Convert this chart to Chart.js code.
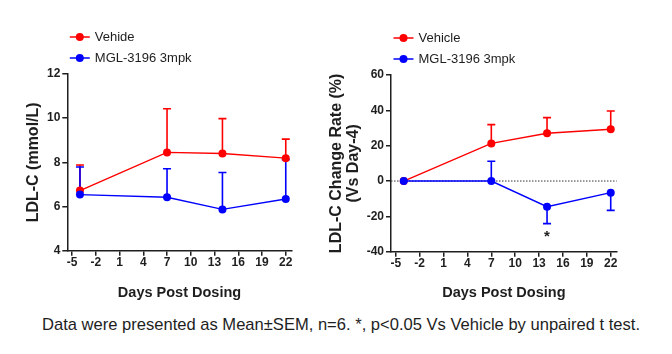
<!DOCTYPE html>
<html>
<head>
<meta charset="utf-8">
<script src="https://cdn.jsdelivr.net/npm/chart.js@4.4.1/dist/chart.umd.min.js"></script>
<style>
  html, body { margin: 0; padding: 0; background: #ffffff; }
  body { width: 672px; height: 354px; position: relative; overflow: hidden; }
  #cLeft { position: absolute; left: 0px; top: 0px; }
  #cRight { position: absolute; left: 316px; top: 0px; }
  #caption { position: absolute; left: 41.7px; top: 314px; white-space: nowrap;
    font-family: "Liberation Sans", Arial, sans-serif; font-size: 17px; line-height: 22px;
    color: #1e1e1e; transform-origin: left center; }
</style>
</head>
<body>
<canvas id="cLeft" width="336" height="310"></canvas>
<canvas id="cRight" width="356" height="310"></canvas>
<div id="caption">Data were presented as Mean±SEM, n=6. *, p&lt;0.05 Vs Vehicle by unpaired t test.</div>
<script>
// ---------------- data ----------------
const days = [-4, 7, 14, 22];
const xTickValues = [-5, -2, 1, 4, 7, 10, 13, 16, 19, 22];
const seriesNames = ['Vehide', 'MGL-3196 3mpk'];
const seriesNamesRight = ['Vehicle', 'MGL-3196 3mpk'];

const ldlVehicle    = [6.72, 8.45, 8.40, 8.19];
const ldlVehicleSem = [1.16, 1.98, 1.58, 0.86];
const ldlMgl        = [6.54, 6.42, 5.87, 6.34];
const ldlMglSem     = [1.25, 1.29, 1.67, 1.78];
const leftYTicks    = [4, 6, 8, 10, 12];

const changeVehicle    = [0, 21.3, 27.0, 29.3];
const changeVehicleSem = [0, 10.6, 8.9, 10.3];
const changeMgl        = [0, 0, -14.5, -6.6];
const changeMglSem     = [0, 11.2, 9.6, 10.0];
const rightYTicks      = [-40, -20, 0, 20, 40, 60];

const starDay = 14;
const starValue = -30;

// ---------------- styling ----------------
const FONT = '"Liberation Sans", Arial, sans-serif';
const RED = '#ff0000';
const BLUE = '#0000ff';
const INK = '#1e1e1e';

function pts(xs, ys) { return xs.map((x, i) => ({ x: x, y: ys[i] })); }

const errorBarPlugin = {
  id: 'errorBars',
  beforeDatasetsDraw(chart) {
    const ctx = chart.ctx;
    const xs = chart.scales.x, ys = chart.scales.y;
    const opts = chart.options.plugins.errorBars || {};
    // zero reference line
    if (opts.zeroLine) {
      const y0 = ys.getPixelForValue(0);
      ctx.save();
      ctx.strokeStyle = '#333';
      ctx.lineWidth = 1;
      ctx.setLineDash([1.5, 1.5]);
      ctx.beginPath();
      ctx.moveTo(chart.chartArea.left, y0);
      ctx.lineTo(chart.chartArea.right, y0);
      ctx.stroke();
      ctx.restore();
    }
    chart.data.datasets.forEach((ds) => {
      const errs = ds.sem || [];
      ctx.save();
      ctx.strokeStyle = ds.borderColor;
      ctx.lineWidth = 1.6;
      ds.data.forEach((p, i) => {
        const e = errs[i];
        if (!e) return;
        const dir = p.y < 0 ? -1 : 1;
        const px = xs.getPixelForValue(p.x);
        const py = ys.getPixelForValue(p.y);
        const pe = ys.getPixelForValue(p.y + dir * e);
        ctx.beginPath();
        ctx.moveTo(px, py);
        ctx.lineTo(px, pe);
        ctx.moveTo(px - 4, pe);
        ctx.lineTo(px + 4, pe);
        ctx.stroke();
      });
      ctx.restore();
    });
  },
  afterDraw(chart) {
    const ctx = chart.ctx;
    const opts = chart.options.plugins.errorBars || {};
    const area = chart.chartArea;
    // legend
    const items = opts.legend || [];
    items.forEach((it, i) => {
      const y = area.top - 37 + i * 21;
      const x0 = area.left + 2.5;
      ctx.save();
      ctx.strokeStyle = it.color;
      ctx.lineWidth = 1.5;
      ctx.beginPath();
      ctx.moveTo(x0, y);
      ctx.lineTo(x0 + 20, y);
      ctx.stroke();
      ctx.fillStyle = it.color;
      ctx.beginPath();
      ctx.arc(x0 + 10, y, 4, 0, Math.PI * 2);
      ctx.fill();
      ctx.fillStyle = INK;
      ctx.font = '13px ' + FONT;
      ctx.textBaseline = 'middle';
      ctx.textAlign = 'left';
      ctx.fillText(it.label, x0 + 25, y);
      ctx.restore();
    });
    // significance star
    if (opts.star) {
      const xs = chart.scales.x, ys = chart.scales.y;
      const px = xs.getPixelForValue(opts.star.x);
      const py = ys.getPixelForValue(opts.star.y);
      ctx.save();
      ctx.fillStyle = INK;
      ctx.font = 'bold 15px ' + FONT;
      ctx.textAlign = 'center';
      ctx.textBaseline = 'alphabetic';
      const m = ctx.measureText('*');
      const mid = (m.actualBoundingBoxAscent - m.actualBoundingBoxDescent) / 2;
      ctx.fillText('*', px, py + mid);
      ctx.restore();
    }
  }
};

function makeChart(canvasId, cfg) {
  const tickFont = { family: FONT, size: 12, weight: 'bold' };
  return new Chart(document.getElementById(canvasId), {
    type: 'line',
    data: {
      datasets: [
        { label: cfg.names[0], data: pts(days, cfg.red), sem: cfg.redSem,
          borderColor: RED, backgroundColor: RED, pointBackgroundColor: RED, pointBorderColor: RED,
          borderWidth: 1.4, pointRadius: 4, pointBorderWidth: 0, tension: 0, order: 2 },
        { label: cfg.names[1], data: pts(days, cfg.blue), sem: cfg.blueSem,
          borderColor: BLUE, backgroundColor: BLUE, pointBackgroundColor: BLUE, pointBorderColor: BLUE,
          borderWidth: 1.4, pointRadius: 4, pointBorderWidth: 0, tension: 0, order: 1 }
      ]
    },
    options: {
      responsive: false,
      animation: false,
      devicePixelRatio: 1,
      events: [],
      layout: { padding: { left: 0, top: cfg.top, right: cfg.right, bottom: 0 } },
      plugins: {
        legend: { display: false },
        tooltip: { enabled: false },
        errorBars: {
          zeroLine: cfg.zeroLine,
          star: cfg.star,
          legend: [ { label: cfg.names[0], color: RED }, { label: cfg.names[1], color: BLUE } ]
        }
      },
      scales: {
        x: {
          type: 'linear', min: -5.6, max: 22.75,
          afterBuildTicks(s) { s.ticks = xTickValues.map(v => ({ value: v })); },
          afterFit(s) { s.height = cfg.xHeight; },
          ticks: { font: tickFont, color: INK, padding: 0, maxRotation: 0, autoSkip: false },
          grid: { drawOnChartArea: false, drawTicks: true, tickLength: 5, color: INK, lineWidth: 1.5 },
          border: { display: true, color: INK, width: 1.5 },
          title: { display: true, text: 'Days Post Dosing', color: INK,
                   font: { family: FONT, size: 14.5, weight: 'bold', lineHeight: 1.2 },
                   padding: { top: 0, bottom: 8 } }
        },
        y: {
          type: 'linear', min: cfg.yMin, max: cfg.yMax,
          afterBuildTicks(s) { s.ticks = cfg.yTicks.map(v => ({ value: v })); },
          afterFit(s) { s.width = cfg.yWidth; },
          ticks: { font: tickFont, color: INK, padding: 2, autoSkip: false },
          grid: { drawOnChartArea: false, drawTicks: true, tickLength: 5, color: INK, lineWidth: 1.5 },
          border: { display: true, color: INK, width: 1.5 },
          title: { display: true, text: cfg.yTitle, color: INK,
                   font: { family: FONT, size: 16, weight: 'bold', lineHeight: '17px' },
                   padding: { top: cfg.titlePad, bottom: 0 } }
        }
      }
    },
    plugins: [errorBarPlugin]
  });
}

makeChart('cLeft', {
  names: seriesNames, red: ldlVehicle, redSem: ldlVehicleSem, blue: ldlMgl, blueSem: ldlMglSem,
  top: 74, right: 44.3, xHeight: 59.3, yWidth: 67.3, yMin: 4, yMax: 12, yTicks: leftYTicks,
  yTitle: 'LDL-C (mmol/L)', titlePad: 24.8, zeroLine: false, star: null
});

makeChart('cRight', {
  names: seriesNamesRight, red: changeVehicle, redSem: changeVehicleSem, blue: changeMgl, blueSem: changeMglSem,
  top: 75, right: 55.3, xHeight: 58.3, yWidth: 75, yMin: -40, yMax: 60, yTicks: rightYTicks,
  yTitle: ['LDL-C Change Rate (%)', '(Vs Day-4)'], titlePad: 12.5, zeroLine: true,
  star: { x: starDay, y: starValue }
});

// fit caption width to reference span
(function () {
  const cap = document.getElementById('caption');
  const w = cap.getBoundingClientRect().width;
  const target = 598;
  cap.style.transform = 'scaleX(' + (target / w) + ')';
})();
</script>
</body>
</html>
